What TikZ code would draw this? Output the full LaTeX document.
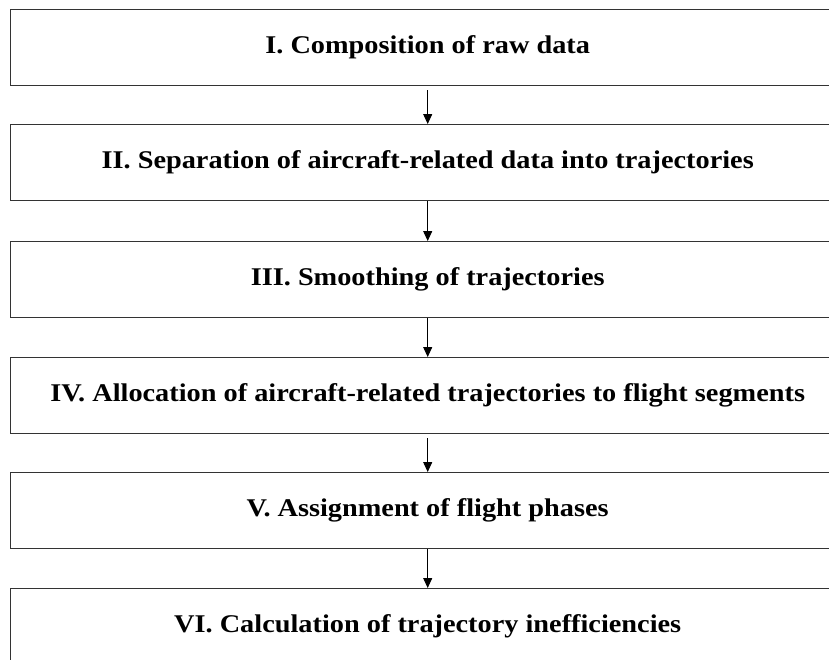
\documentclass[tikz,border=0pt]{standalone}
\usepackage{fontspec}
\setmainfont{Liberation Serif}
\usetikzlibrary{arrows.meta}
\newcommand{\stagetext}[1]{\scalebox{1.11}[1]{#1}}
\begin{document}
\begin{tikzpicture}[x=1pt,y=-1pt]
\useasboundingbox (0,0) rectangle (829,659);
\tikzset{
  stagebox/.style={draw=black!80, line width=1.4pt, minimum width=834pt, minimum height=76pt,
    anchor=north west, inner sep=0pt, align=center,
    font=\bfseries\fontsize{25.5}{30}\selectfont},
  flowarrow/.style={draw=black, line width=1pt, -{Triangle[length=10pt,width=9pt]}}
}
\node[stagebox] (s1) at (10,9)   {\stagetext{I. Composition of raw data}};
\node[stagebox] (s2) at (10,124) {\stagetext{II. Separation of aircraft-related data into trajectories}};
\node[stagebox] (s3) at (10,241) {\stagetext{III. Smoothing of trajectories}};
\node[stagebox] (s4) at (10,357) {\stagetext{IV. Allocation of aircraft-related trajectories to flight segments}};
\node[stagebox] (s5) at (10,472) {\stagetext{V. Assignment of flight phases}};
\node[stagebox] (s6) at (10,588) {\stagetext{VI. Calculation of trajectory inefficiencies}};
\draw[flowarrow] (s1.south) ++(0,4) -- (s2.north);
\draw[flowarrow] (s2.south) -- (s3.north);
\draw[flowarrow] (s3.south) -- (s4.north);
\draw[flowarrow] (s4.south) ++(0,4) -- (s5.north);
\draw[flowarrow] (s5.south) -- (s6.north);
\end{tikzpicture}
\end{document}
